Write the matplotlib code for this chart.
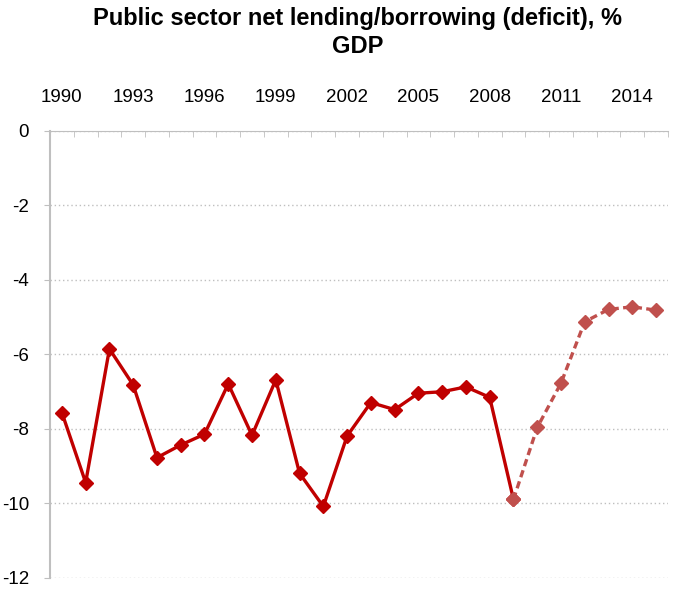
import numpy as np
import matplotlib
matplotlib.use("Agg")
import matplotlib.pyplot as plt

plt.rcParams['font.family'] = ['Liberation Sans', 'DejaVu Sans']

years = list(range(1990, 2016))
deficit = [-7.56, -9.44, -5.85, -6.82, -8.77, -8.43, -8.14, -6.79, -8.17, -6.68,
           -9.19, -10.08, -8.19, -7.29, -7.48, -7.04, -7.0, -6.87, -7.15, -9.89,
           -7.96, -6.77, -5.12, -4.79, -4.72, -4.81]
first_forecast = 2009
title = "Public sector net lending/borrowing (deficit), %\nGDP"

x = np.arange(len(years))
split = years.index(first_forecast)

fig = plt.figure(figsize=(6.74, 5.89), dpi=100)
ax = fig.add_axes([0.0742, 0.0187, 0.9168, 0.7589])

ax.plot(x[:split + 1], deficit[:split + 1], color='#C00000', lw=2.4,
        marker='D', ms=7, zorder=3)
ax.plot(x[split:], deficit[split:], color='#C0504D', lw=2.4, ls=(0, (2.2, 1.3)),
        marker='D', ms=7, zorder=4)

ax.set_xlim(-0.5, len(years) - 0.5)
ax.set_ylim(-12, 0)
ax.set_yticks(np.arange(-12, 1, 2))
ax.set_yticklabels([str(v) for v in range(-12, 1, 2)])
ax.yaxis.grid(True, color='#BFBFBF', ls=(0, (1, 2)), lw=1)
ax.set_axisbelow(True)

ax.xaxis.tick_top()
ax.set_xticks(x[::3])
ax.set_xticklabels([str(y) for y in years[::3]])
ax.set_xticks(np.arange(-0.5, len(years), 1), minor=True)
ax.tick_params(axis='x', which='major', length=0, pad=18, labelsize=13.5)
ax.tick_params(axis='x', which='minor', length=4, direction='in', color='#BFBFBF')
ax.tick_params(axis='y', length=4, color='#BFBFBF', labelsize=13.5, pad=11)

for s in ['right', 'bottom']:
    ax.spines[s].set_visible(False)
ax.spines['top'].set_color('#BFBFBF')
ax.spines['left'].set_color('#BFBFBF')
ax.spines['left'].set_linewidth(1.5)

fig.text(0.53, 0.988, title, ha='center', va='top', fontsize=17,
         fontweight='bold', linespacing=1.3)

fig.savefig('out.png', dpi=100)
